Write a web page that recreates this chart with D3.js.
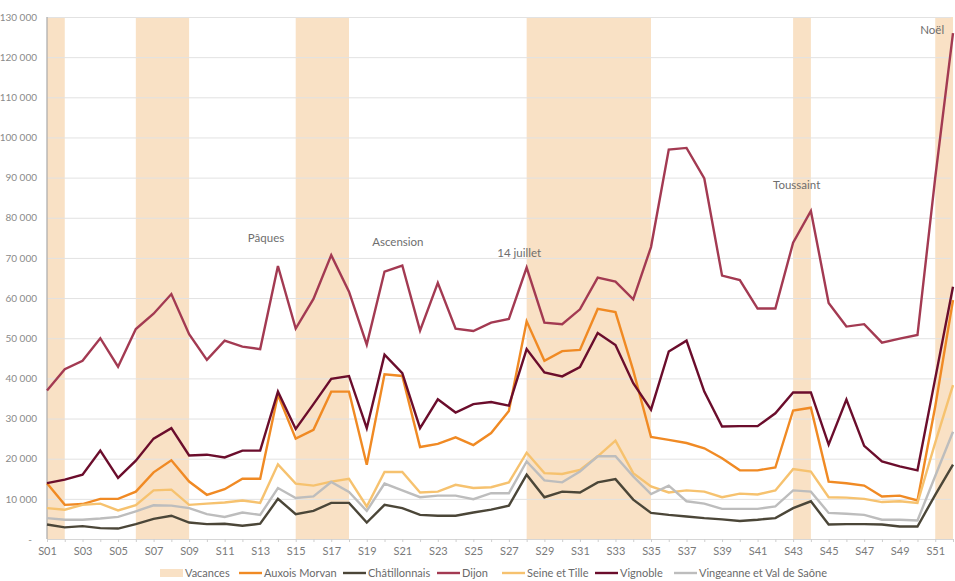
<!DOCTYPE html>
<html>
<head>
<meta charset="utf-8">
<script src="https://cdn.jsdelivr.net/npm/d3@7"></script>
<style>
  body { margin: 0; background: #fff; }
  svg { display: block; font-family: Lato, "Open Sans", sans-serif; }
</style>
</head>
<body>
<div id="chart"></div>
<script>
const WIDTH = 955;
const HEIGHT = 581;

const MARGIN = { top: 17, bottom: 42, left: 47, right: 2 };

// semaines
const weeks = ["S01","S02","S03","S04","S05","S06","S07","S08","S09","S10",
               "S11","S12","S13","S14","S15","S16","S17","S18","S19","S20",
               "S21","S22","S23","S24","S25","S26","S27","S28","S29","S30",
               "S31","S32","S33","S34","S35","S36","S37","S38","S39","S40",
               "S41","S42","S43","S44","S45","S46","S47","S48","S49","S50",
               "S51","S52"];

const yTicks = [0, 10000, 20000, 30000, 40000, 50000, 60000, 70000,
                80000, 90000, 100000, 110000, 120000, 130000];

const auxoisMorvan = [13900, 8500, 8700, 10000, 10000, 11800, 16600, 19600, 14300, 11000,
                      12400, 15000, 15000, 35900, 25000, 27200, 36700, 36700, 18500, 41000,
                      40600, 22900, 23700, 25300, 23400, 26400, 31900, 54200, 44400, 46800,
                      47100, 57300, 56500, 42000, 25400, 24700, 23900, 22600, 20100, 17100,
                      17100, 17800, 32000, 32700, 14300, 13900, 13300, 10600, 10800, 9600,
                      33000, 59500];

const chatillonnais = [3600, 2900, 3200, 2700, 2600, 3700, 5000, 5800, 4100, 3700,
                       3800, 3300, 3800, 10000, 6200, 7000, 9000, 9000, 4100, 8500,
                       7700, 6000, 5800, 5800, 6600, 7300, 8300, 16000, 10400, 11800,
                       11600, 14100, 14900, 9800, 6500, 6000, 5600, 5200, 4900, 4500,
                       4800, 5200, 7700, 9400, 3600, 3700, 3700, 3600, 3100, 3100,
                       11000, 18500];

const dijon = [37000, 42300, 44400, 50000, 42900, 52300, 56100, 61000, 51000, 44600,
               49400, 47900, 47300, 68000, 52400, 59800, 70700, 61600, 48400, 66600,
               68100, 51900, 63800, 52400, 51800, 53900, 54800, 67600, 53900, 53500,
               57200, 65100, 64100, 59700, 72700, 97000, 97400, 89800, 65600, 64500,
               57400, 57400, 73800, 81700, 58800, 52900, 53500, 48900, 49900, 50800,
               90000, 126000];

const seineEtTille = [7700, 7300, 8500, 8800, 7100, 8400, 12100, 12300, 8500, 8800,
                      9100, 9600, 9000, 18600, 13800, 13300, 14300, 15000, 8100, 16700,
                      16700, 11600, 11800, 13500, 12700, 12900, 14100, 21500, 16400, 16200,
                      17200, 20600, 24500, 16400, 13100, 11600, 12100, 11800, 10400, 11300,
                      11100, 12100, 17400, 16800, 10400, 10300, 10000, 9200, 9400, 9000,
                      24000, 38300];

const vignoble = [13900, 14800, 16000, 22000, 15200, 19500, 25000, 27600, 20800, 21000,
                  20300, 22000, 22000, 36700, 27400, 33600, 39900, 40600, 27600, 45900,
                  41300, 27600, 34800, 31500, 33600, 34100, 33200, 47300, 41500, 40500,
                  42800, 51300, 48300, 38800, 32200, 46700, 49400, 36700, 28000, 28100,
                  28100, 31300, 36500, 36500, 23500, 34700, 23200, 19300, 18100, 17100,
                  40000, 62800];

const vingeanne = [5200, 4800, 4800, 5100, 5500, 6900, 8400, 8300, 7700, 6200,
                   5500, 6600, 6000, 12700, 10200, 10600, 14200, 11700, 7000, 13800,
                   12100, 10400, 10800, 10800, 9900, 11400, 11400, 19300, 14600, 14100,
                   16800, 20600, 20600, 15600, 11200, 13300, 9400, 8800, 7500, 7500,
                   7500, 8100, 12100, 11800, 6500, 6300, 6000, 4800, 4800, 4600,
                   15700, 26700];

// périodes de vacances (semaine début, semaine fin)
const vacStart = [1, 6, 15, 28, 43, 51];
const vacEnd   = [2, 9, 18, 35, 44, 52];

// annotations
const noteLabels = ["Pâques", "Ascension", "14 juillet", "Toussaint", "Noël"];
const noteWeeks  = [13.33, 20.75, 27.58, 43.2, 50.83];
const noteValues = [73900, 72900, 70200, 87100, 125700];

const seriesNames = ["Auxois Morvan", "Châtillonnais", "Dijon", "Seine et Tille", "Vignoble", "Vingeanne et Val de Saône"];
const seriesData  = [auxoisMorvan, chatillonnais, dijon, seineEtTille, vignoble, vingeanne];
const colors = {
    "Vacances": "#f9e1c5",
    "Auxois Morvan": "#f08a24",
    "Châtillonnais": "#4b4638",
    "Dijon": "#a33a52",
    "Seine et Tille": "#f6c26f",
    "Vignoble": "#6b0d2c",
    "Vingeanne et Val de Saône": "#bdbdbd",
};

const SVG = d3.select("#chart").append("svg")
    .attr("width", WIDTH)
    .attr("height", HEIGHT);

const XScale = d3.scaleLinear()
    .domain([1, 52])
    .range([MARGIN.left, WIDTH - MARGIN.right]);

const YScale = d3.scaleLinear()
    .domain([0, 130000])
    .range([HEIGHT - MARGIN.bottom, MARGIN.top]);

// bandes vacances
SVG.append("g")
    .selectAll("rect")
    .data(vacStart)
    .join("rect")
    .attr("x", (d) => XScale(d))
    .attr("width", (d, i) => XScale(vacEnd[i]) - XScale(d))
    .attr("y", YScale(130000))
    .attr("height", YScale(0) - YScale(130000))
    .attr("fill", colors["Vacances"]);

// grille + axe Y
const fmt = (v) => v === 0 ? "-" : d3.format(",")(v).replace(/,/g, " ");
const yAxis = d3.axisLeft(YScale)
    .tickValues(yTicks)
    .tickSize(-(WIDTH - MARGIN.right - MARGIN.left - 2))
    .tickPadding(10)
    .tickFormat(fmt);
const yAxisCont = SVG.append("g")
    .attr("transform", `translate(${MARGIN.left}, 0)`)
    .call(yAxis);
yAxisCont.select(".domain").remove();
yAxisCont.selectAll("line")
    .attr("stroke", "#e2e2e2")
    .attr("stroke-width", 1);
yAxisCont.selectAll("text")
    .attr("fill", "#8a8a8a")
    .attr("font-size", 10)
    .attr("font-family", "Lato, sans-serif");
yAxisCont.selectAll(".tick")
    .filter((d) => d === 0)
    .select("text")
    .attr("dx", -5);

// axe X
const xAxis = d3.axisBottom(XScale)
    .tickValues(d3.range(1, 53))
    .tickSize(3)
    .tickPadding(5)
    .tickFormat((d) => d % 2 === 1 ? weeks[d - 1] : "");
const xAxisCont = SVG.append("g")
    .attr("transform", `translate(0, ${YScale(0)})`)
    .call(xAxis);
xAxisCont.select(".domain")
    .attr("stroke", "#d6d6d6");
xAxisCont.selectAll("line")
    .attr("stroke", "#cfcfcf");
xAxisCont.selectAll("text")
    .attr("fill", "#7a7a7a")
    .attr("font-size", 11)
    .attr("font-family", "Lato, sans-serif");

// ligne verticale de l'axe Y
SVG.append("line")
    .attr("x1", XScale(1)).attr("x2", XScale(1))
    .attr("y1", YScale(130000)).attr("y2", YScale(0))
    .attr("stroke", "#a9a9a9")
    .attr("stroke-width", 1.2);

// courbes
const line = d3.line()
    .x((d, i) => XScale(i + 1))
    .y((d) => YScale(d));

SVG.append("g")
    .selectAll("path")
    .data(seriesNames)
    .join("path")
    .attr("fill", "none")
    .attr("stroke", (d) => colors[d])
    .attr("stroke-width", 2.4)
    .attr("stroke-linejoin", "miter")
    .attr("d", (d, i) => line(seriesData[i]));

// annotations
SVG.append("g")
    .selectAll("text")
    .data(noteLabels)
    .join("text")
    .attr("x", (d, i) => XScale(noteWeeks[i]))
    .attr("y", (d, i) => YScale(noteValues[i]))
    .attr("text-anchor", "middle")
    .attr("fill", "#6e6e6e")
    .attr("font-size", 11.5)
    .text((d) => d);

// légende
const legendNames = ["Vacances"].concat(seriesNames);
const legendX = [160, 239, 343, 437, 502, 595, 674];
const legendY = 573;
const legend = SVG.append("g")
    .selectAll("g")
    .data(legendNames)
    .join("g")
    .attr("transform", (d, i) => `translate(${legendX[i]}, ${legendY})`);

legend.filter((d) => d === "Vacances")
    .append("rect")
    .attr("x", 0).attr("y", -4)
    .attr("width", 23).attr("height", 8)
    .attr("fill", colors["Vacances"]);
legend.filter((d) => d !== "Vacances")
    .append("line")
    .attr("x1", 0).attr("x2", 23)
    .attr("stroke", (d) => colors[d])
    .attr("stroke-width", 2.4);
legend.append("text")
    .attr("x", 25)
    .attr("y", 4)
    .attr("fill", "#6a6a6a")
    .attr("font-size", 11)
    .text((d) => d);
</script>
</body>
</html>
